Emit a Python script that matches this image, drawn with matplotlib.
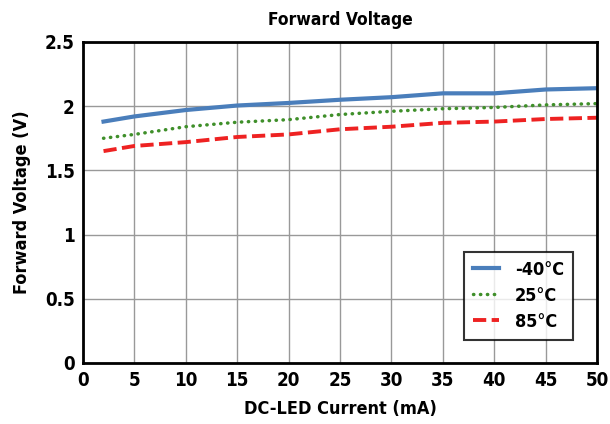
import matplotlib
matplotlib.use('Agg')
import matplotlib.pyplot as plt

current = [2, 5, 10, 15, 20, 25, 30, 35, 40, 45, 50]
v_m40 = [1.88, 1.92, 1.97, 2.005, 2.025, 2.05, 2.07, 2.10, 2.10, 2.13, 2.14]
v_25 = [1.75, 1.78, 1.84, 1.875, 1.895, 1.935, 1.96, 1.98, 1.99, 2.01, 2.02]
v_85 = [1.65, 1.69, 1.72, 1.76, 1.78, 1.82, 1.84, 1.87, 1.88, 1.90, 1.91]

x_ticks = [0, 5, 10, 15, 20, 25, 30, 35, 40, 45, 50]
y_ticks = [0, 0.5, 1, 1.5, 2, 2.5]
y_labels = ['0', '0.5', '1', '1.5', '2', '2.5']

plt.rcParams['font.family'] = ['DejaVu Sans']
plt.rcParams['font.stretch'] = 'condensed'
plt.rcParams['font.weight'] = 'bold'

fig = plt.figure(figsize=(6.1, 4.24), dpi=100)
ax = fig.add_axes([0.136, 0.144, 0.843, 0.757])

ax.plot(current, v_m40, color='#4a7ebb', lw=3, label='-40°C')
ax.plot(current, v_25, color='#3f8f2a', lw=2.5, linestyle=(0, (0.1, 1.9)),
        dash_capstyle='round', label='25°C')
ax.plot(current, v_85, color='#ee2222', lw=2.8, linestyle=(0, (3.4, 1.4)), label='85°C')

ax.set_xlim(0, 50)
ax.set_ylim(0, 2.5)
ax.set_xticks(x_ticks)
ax.set_yticks(y_ticks)
ax.set_yticklabels(y_labels)
ax.tick_params(length=0, labelsize=13.5, pad=6)
ax.grid(True, color='#999999', lw=1)
for s in ax.spines.values():
    s.set_linewidth(2)
    s.set_color('black')

ax.set_title('Forward Voltage', fontsize=12.5, fontweight='bold', pad=12)
ax.set_xlabel('DC-LED Current (mA)', fontsize=13, fontweight='bold', labelpad=7)
ax.set_ylabel('Forward Voltage (V)', fontsize=13, fontweight='bold', labelpad=10)

leg = ax.legend(loc='lower right', bbox_to_anchor=(0.953, 0.072), fontsize=13,
                frameon=True, fancybox=False, handlelength=1.4, borderpad=0.5,
                labelspacing=0.45, handletextpad=0.9, borderaxespad=0)
leg.get_frame().set_edgecolor('black')
leg.get_frame().set_linewidth(1.5)

fig.savefig('out.png', dpi=100)
